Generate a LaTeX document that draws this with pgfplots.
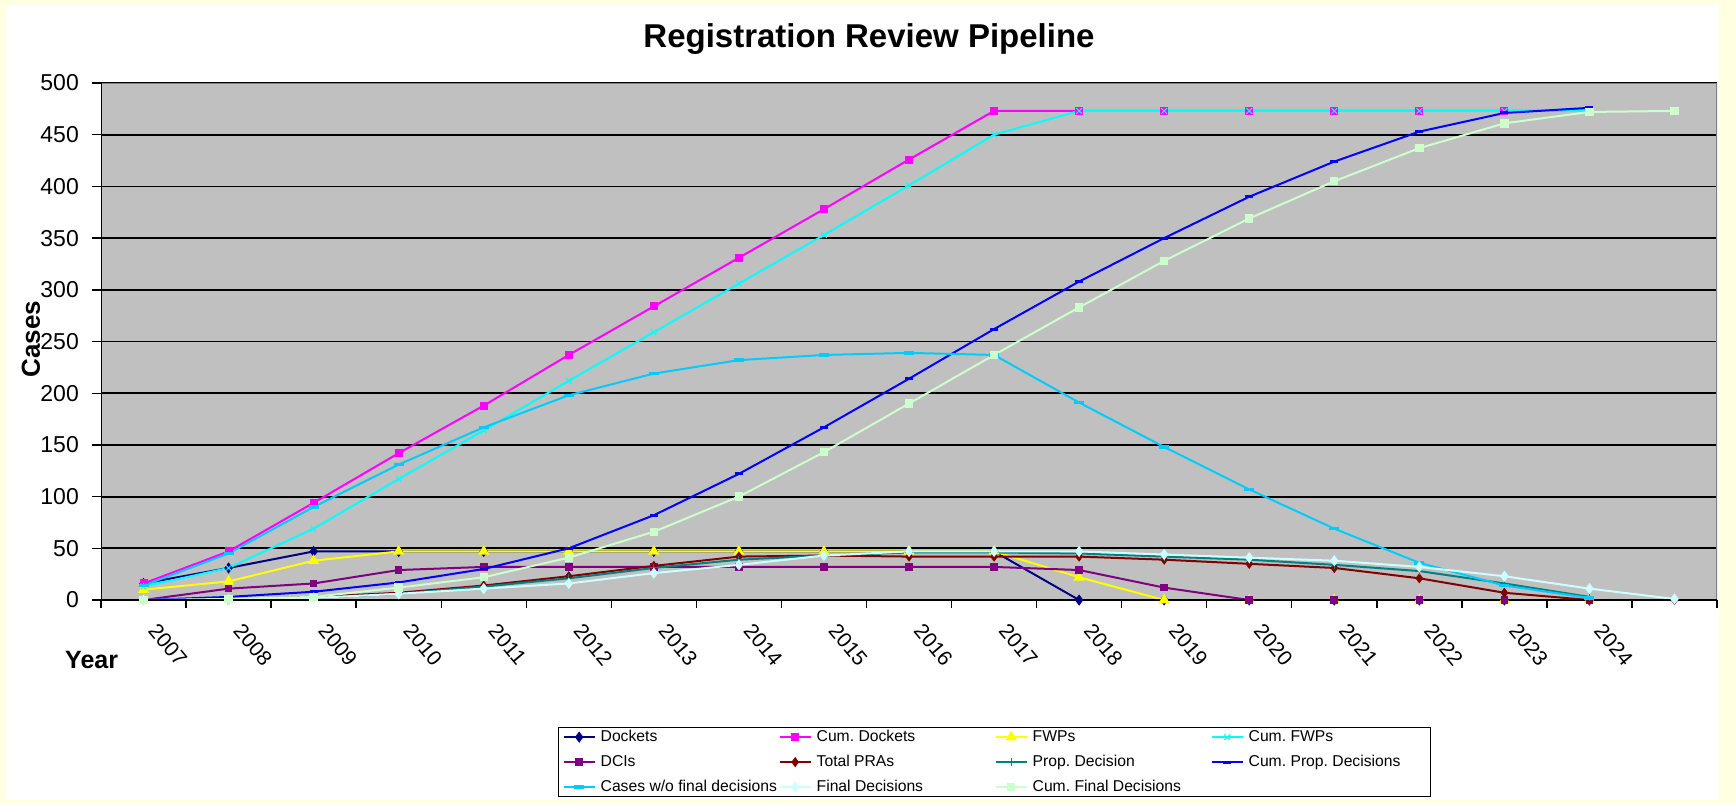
\documentclass[border=0pt]{standalone}
\usepackage{pgfplots}
\pgfplotsset{compat=1.18}
\usepackage{fontspec}
\setmainfont{Liberation Sans}
\definecolor{bgyellow}{RGB}{255,255,225}
\definecolor{plotgray}{RGB}{192,192,192}
\definecolor{cNavy}{RGB}{0,0,128}
\definecolor{cMag}{RGB}{255,0,255}
\definecolor{cYel}{RGB}{255,255,0}
\definecolor{cCyan}{RGB}{0,255,255}
\definecolor{cPurp}{RGB}{128,0,128}
\definecolor{cDRed}{RGB}{128,0,0}
\definecolor{cTeal}{RGB}{0,128,128}
\definecolor{cBlue}{RGB}{0,0,255}
\definecolor{cSky}{RGB}{0,204,255}
\definecolor{cTurq}{RGB}{204,255,255}
\definecolor{cLGreen}{RGB}{204,255,204}
\newcommand{\legtxt}[1]{\makebox[178pt][l]{#1}}
\begin{document}
\frenchspacing
\begin{tikzpicture}[x=1pt,y=1pt]
\fill[bgyellow] (0,0) rectangle (1736,-804);
\fill[white] (6,-5) rectangle (1719,-800);
\begin{axis}[
  at={(101pt,-600pt)}, anchor=south west,
  scale only axis, width=1616pt, height=517pt,
  xmin=-0.5, xmax=18.5, ymin=0, ymax=500,
  axis background/.style={fill=plotgray},
  axis line style={draw=none},
  ytick={0,50,...,500},
  ymajorgrids, major grid style={black, line width=1.8pt},
  xtick={0,...,17},
  xticklabels={2007,2008,2009,2010,2011,2012,2013,2014,2015,2016,2017,2018,2019,2020,2021,2022,2023,2024},
  minor xtick={-0.5,0.5,...,18.5},
  xtick pos=bottom, ytick pos=left,
  tick align=outside,
  major tick length=9pt, minor tick length=8pt,
  every major x tick/.append style={draw=none},
  every tick/.append style={black, line width=1.4pt},
  minor tick style={black, line width=1.4pt},
  major tick style={black, line width=1.4pt},
  /pgf/number format/assume math mode=true,
  yticklabel style={font=\fontsize{23pt}{23pt}\selectfont, anchor=east, inner sep=0pt, xshift=-13pt},
  xticklabel style={font=\fontsize{21pt}{21pt}\selectfont, inner sep=0pt, xshift=15pt, yshift=-13pt, rotate=-50, anchor=north west},
  legend columns=4,
  legend cell align=left,
  legend style={at={(0.2828,-0.2456)}, anchor=north west,
    draw=black, line width=1.3pt, fill=white,
    inner xsep=4pt, inner ysep=2pt,
    font=\fontsize{15.7pt}{15.7pt}\selectfont,
    nodes={inner sep=0pt, text height=11.5pt, text depth=3.5pt, anchor=west},
    row sep=10pt,
    /tikz/every odd column/.append style={column sep=5pt},
    /tikz/every even column/.append style={column sep=0pt}},
  legend image code/.code={\draw[#1, mark repeat=2, mark phase=2] plot coordinates {(0pt,0pt) (15.5pt,0pt) (31pt,0pt)};},
  every axis plot/.append style={line width=2pt, mark options={solid, line width=1pt}},
]
% Dockets
\addplot[color=cNavy, mark=diamond*, mark size=4pt, mark options={fill=cNavy}] coordinates {
(0,16)(1,31)(2,47)(3,47)(4,47)(5,47)(6,47)(7,47)(8,47)(9,47)(10,47)(11,0)(12,0)(13,0)(14,0)(15,0)(16,0)(17,0)};
\addlegendentry{\legtxt{Dockets}}
% Cum. Dockets
\addplot[color=cMag, mark=square*, mark size=3pt, mark options={fill=cMag}] coordinates {
(0,16)(1,47)(2,94)(3,142)(4,188)(5,237)(6,284)(7,331)(8,378)(9,426)(10,473)(11,473)(12,473)(13,473)(14,473)(15,473)(16,473)(17,473)};
\addlegendentry{\legtxt{Cum. Dockets}}
% FWPs
\addplot[color=cYel, mark=triangle*, mark size=4.5pt, mark options={fill=cYel}] coordinates {
(0,10)(1,18)(2,38)(3,47)(4,47)(5,47)(6,47)(7,47)(8,47)(9,47)(10,47)(11,22)(12,0)(13,0)(14,0)(15,0)(16,0)(17,0)};
\addlegendentry{\legtxt{FWPs}}
% Cum. FWPs
\addplot[color=cCyan, mark=x, mark size=4pt] coordinates {
(0,13)(1,31)(2,69)(3,117)(4,164)(5,212)(6,259)(7,306)(8,353)(9,401)(10,450)(11,473)(12,473)(13,473)(14,473)(15,473)(16,473)(17,473)};
\addlegendentry{\legtxt{Cum. FWPs}}
% DCIs
\addplot[color=cPurp, mark=square*, mark size=2.8pt, mark options={fill=cPurp}] coordinates {
(0,0)(1,11)(2,16)(3,29)(4,32)(5,32)(6,32)(7,32)(8,32)(9,32)(10,32)(11,29)(12,12)(13,0)(14,0)(15,0)(16,0)(17,0)};
\addlegendentry{\legtxt{DCIs}}
% Total PRAs
\addplot[color=cDRed, mark=diamond*, mark size=3.5pt, mark options={fill=cDRed}] coordinates {
(0,0)(1,0)(2,3)(3,7)(4,14)(5,23)(6,33)(7,42)(8,43)(9,42)(10,42)(11,42)(12,39)(13,35)(14,31)(15,21)(16,7)(17,0)(18,0)};
\addlegendentry{\legtxt{Total PRAs}}
% Prop. Decision
\addplot[color=cTeal, mark=+, mark size=4pt] coordinates {
(0,0)(1,0)(2,2)(3,6)(4,13)(5,21)(6,31)(7,39)(8,43)(9,46)(10,46)(11,45)(12,42)(13,39)(14,34)(15,28)(16,16)(17,3)};
\addlegendentry{\legtxt{Prop. Decision}}
% Cum. Prop. Decisions
\addplot[color=cBlue, mark=-, mark size=4pt, mark options={line width=3pt}] coordinates {
(0,0)(1,3)(2,8)(3,17)(4,30)(5,50)(6,82)(7,122)(8,167)(9,214)(10,262)(11,308)(12,350)(13,390)(14,424)(15,453)(16,471)(17,476)};
\addlegendentry{\legtxt{Cum. Prop. Decisions}}
% Cases w/o final decisions
\addplot[color=cSky, mark=-, mark size=5pt, mark options={line width=3.5pt}] coordinates {
(0,14)(1,45)(2,90)(3,131)(4,167)(5,198)(6,219)(7,232)(8,237)(9,239)(10,237)(11,191)(12,148)(13,107)(14,69)(15,36)(16,14)(17,2)};
\addlegendentry{\legtxt{Cases w/o final decisions}}
% Final Decisions
\addplot[color=cTurq, mark=diamond*, mark size=4pt, mark options={fill=cTurq}] coordinates {
(0,0)(1,0.5)(2,2)(3,6)(4,11)(5,16)(6,26)(7,34)(8,43)(9,47)(10,47)(11,47)(12,44)(13,41)(14,38)(15,32)(16,23)(17,11)(18,1)};
\addlegendentry{\legtxt{Final Decisions}}
% Cum. Final Decisions
\addplot[color=cLGreen, mark=square*, mark size=3.2pt, mark options={fill=cLGreen}] coordinates {
(0,0)(1,1)(2,3)(3,12)(4,22)(5,41)(6,66)(7,100)(8,143)(9,190)(10,237)(11,283)(12,328)(13,369)(14,405)(15,437)(16,461)(17,472)(18,473)};
\addlegendentry{\legtxt{Cum. Final Decisions}}
% frame
\draw[gray, line width=1.8pt] (rel axis cs:0,1) -- (rel axis cs:1,1) -- (rel axis cs:1,0);
\draw[black, line width=1.8pt] (rel axis cs:0,1) -- (rel axis cs:0,0) -- (rel axis cs:1,0);
\end{axis}
\node[font=\bfseries\fontsize{33pt}{33pt}\selectfont] at (869,-39) {Registration Review Pipeline};
\node[font=\bfseries\fontsize{26pt}{26pt}\selectfont, rotate=90] at (31,-339) {Cases};
\node[font=\bfseries\fontsize{25pt}{25pt}\selectfont, anchor=west, inner sep=0pt] at (65,-660) {Year};
\end{tikzpicture}
\end{document}
